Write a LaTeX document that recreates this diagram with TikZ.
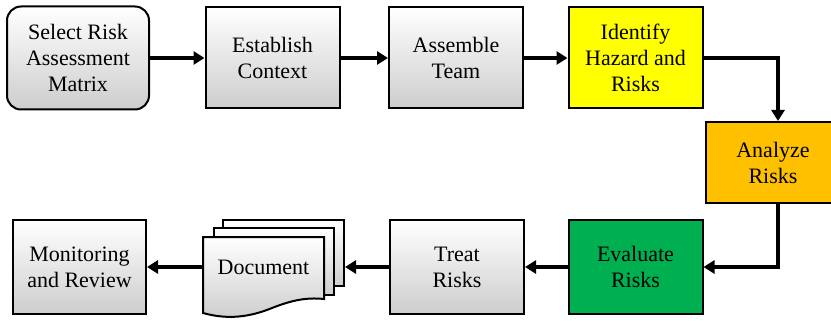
\documentclass[tikz,border=0pt]{standalone}
\usepackage{fontspec}
\setmainfont{Liberation Serif}
\usetikzlibrary{arrows.meta}
\definecolor{boxbot}{RGB}{205,205,205}
\definecolor{hazard}{RGB}{255,255,0}
\definecolor{analyse}{RGB}{255,192,0}
\definecolor{evaluate}{RGB}{0,176,80}
\tikzset{
  stepbox/.style={draw=black, line width=2pt, inner sep=0pt, align=center,
    font=\fontsize{22}{26}\selectfont, minimum width=134pt, minimum height=101pt},
  greybox/.style={stepbox, top color=white, bottom color=boxbot},
  page/.style={draw=black, line width=2pt, top color=white, bottom color=boxbot},
  flow/.style={line width=3.2pt, -{Triangle[length=11pt,width=13pt]}}
}
\begin{document}
\begin{tikzpicture}[x=1pt, y=-1pt]
\useasboundingbox (0,0) rectangle (831,321);

% top row
\node[greybox, rounded corners=14pt, minimum width=142pt, minimum height=103pt] (select) at (78,58)
  {Select Risk\\Assessment\\Matrix};
\node[greybox] (context) at (272.5,58) {Establish\\Context};
\node[greybox] (team) at (456,58) {Assemble\\Team};
\node[stepbox, fill=hazard] (identify) at (635.5,58) {Identify\\Hazard and\\Risks};

% right column
\node[stepbox, fill=analyse, minimum height=81pt] (analyze) at (773,162.5) {Analyze\\Risks};

% bottom row
\node[stepbox, fill=evaluate, minimum height=94pt] (evaluate) at (635.5,267) {Evaluate\\Risks};
\node[greybox, minimum height=94pt] (treat) at (457,267) {Treat\\Risks};
\node[greybox, minimum height=94pt, minimum width=133pt] (monitor) at (79.5,267) {Monitoring\\and Review};

% stacked document pages
\node[page, minimum width=121pt, minimum height=66pt, inner sep=0pt] (docback) at (283.5,253) {};
\node[page, minimum width=120pt, minimum height=67pt, inner sep=0pt] (docmid) at (274,261.5) {};
\path[page] (203,237) -- (324,237) -- (324,299)
  .. controls (305,297) and (290,301) .. (272,308)
  .. controls (250,317) and (228,320) .. (203,313) -- cycle;
\node[inner sep=0pt, minimum width=121pt, minimum height=60pt,
  font=\fontsize{22}{26}\selectfont] (doc) at (263.5,267) {Document};

% connectors
\draw[flow] (select.east) -- (context.west);
\draw[flow] (context.east) -- (team.west);
\draw[flow] (team.east) -- (identify.west);
\draw[flow] (identify.east) -| ([xshift=5pt]analyze.north);
\draw[flow] ([xshift=5pt]analyze.south) |- (evaluate.east);
\draw[flow] (evaluate.west) -- (treat.east);
\draw[flow] (treat.west) -- (treat.west -| docback.east);
\draw[flow] (doc.west) -- (monitor.east);
\end{tikzpicture}
\end{document}
